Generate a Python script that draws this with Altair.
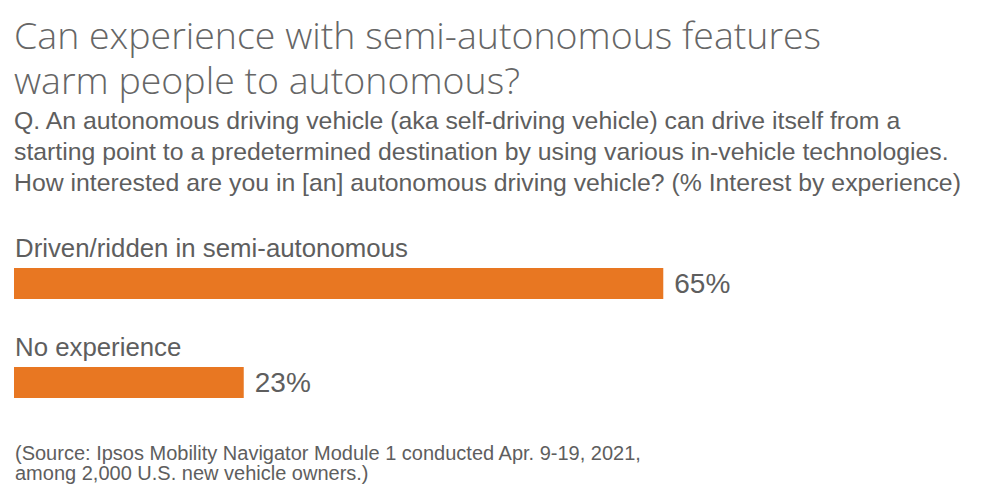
import altair as alt
import pandas as pd

categories = ["Driven/ridden in semi-autonomous", "No experience"]
values = [65, 23]
value_labels = ["65%", "23%"]

title_lines = ["Can experience with semi-autonomous features", "warm people to autonomous?"]
subtitle_lines = [
    "Q. An autonomous driving vehicle (aka self-driving vehicle) can drive itself from a",
    "starting point to a predetermined destination by using various in-vehicle technologies.",
    "How interested are you in [an] autonomous driving vehicle? (% Interest by experience)",
]
source_text = "(Source: Ipsos Mobility Navigator Module 1 conducted Apr. 9-19, 2021,\namong 2,000 U.S. new vehicle owners.)"

df = pd.DataFrame({"category": categories, "value": values, "label": value_labels})

FONT = "Liberation Sans"
GRAY = "#5e5e5e"
ORANGE = "#e87722"

x = alt.X("value:Q", scale=alt.Scale(domain=[0, 90]), axis=None)
y = alt.Y("category:N", sort=categories, scale=alt.Scale(paddingInner=0, paddingOuter=0), axis=None)

bars = alt.Chart(df).mark_bar(color=ORANGE, size=31).encode(x=x, y=y)

pct = alt.Chart(df).mark_text(align="left", baseline="middle", dx=11, dy=1, font=FONT,
                              fontSize=28, color=GRAY).encode(x=x, y=y, text="label:N")

cat_labels = alt.Chart(df).mark_text(align="left", baseline="alphabetic", dy=-27, font=FONT,
                                     fontSize=25.8, color=GRAY).encode(
    x=alt.value(1), y=y, text="category:N")

source = alt.Chart(df.head(1)).mark_text(align="left", baseline="alphabetic", font=FONT,
                                         fontSize=20, color=GRAY, lineBreak="\n", lineHeight=20).encode(
    x=alt.value(1), y=alt.value(226), text=alt.value(source_text))

chart = alt.layer(bars, pct, cat_labels, source).properties(
    width=899, height=198,
    background="white",
    padding={"left": 6, "top": 226, "right": 60, "bottom": 52},
    autosize=alt.AutoSizeParams(type="none"),
    title=alt.Title(
        text=title_lines, subtitle=subtitle_lines, anchor="start", frame="group",
        font="Open Sans", fontSize=37.5, fontWeight=300, color="#666666", lineHeight=45,
        subtitleFont=FONT, subtitleFontSize=24.8, subtitleColor=GRAY, subtitleLineHeight=31,
        subtitlePadding=8, offset=38,
    ),
).configure_view(stroke=None)

chart.save("out.html", embed_options={"renderer": "svg", "actions": False})
